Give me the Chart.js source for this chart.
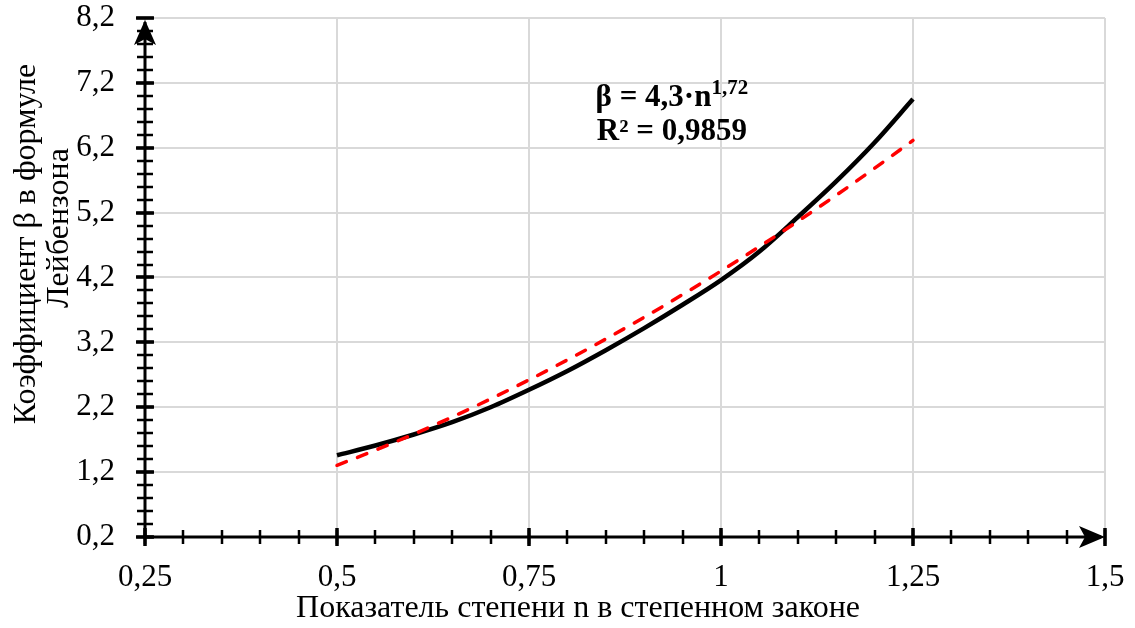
<!DOCTYPE html>
<html>
<head>
<meta charset="utf-8">
<script src="https://cdn.jsdelivr.net/npm/chart.js@4.4.1/dist/chart.umd.min.js"></script>
<style>
  html, body { margin: 0; padding: 0; background: #fff; }
  #wrap { width: 1135px; height: 628px; }
</style>
</head>
<body>
<div id="wrap"><canvas id="mainChart" width="1135" height="628"></canvas></div>
<script>
document.addEventListener("DOMContentLoaded", function () {
  const SERIF = "'Liberation Serif', 'Times New Roman', serif";

  // power-law index n
  const nValues = [0.5, 0.55, 0.6, 0.65, 0.7, 0.75, 0.8, 0.85, 0.9, 0.95, 1.0, 1.05, 1.1, 1.15, 1.2, 1.25];
  // Leibenzon coefficient beta
  const betaValues = [1.46, 1.61, 1.78, 1.97, 2.2, 2.47, 2.76, 3.08, 3.42, 3.78, 4.16, 4.6, 5.13, 5.68, 6.28, 6.95];
  // power trend beta = 4,3*n^1,72
  const trendValues = [1.305, 1.538, 1.786, 2.05, 2.328, 2.622, 2.93, 3.252, 3.587, 3.937, 4.3, 4.676, 5.066, 5.468, 5.884, 6.313];

  const xTicks = [0.25, 0.5, 0.75, 1, 1.25, 1.5];
  const yTicks = [0.2, 1.2, 2.2, 3.2, 4.2, 5.2, 6.2, 7.2, 8.2];

  const xTitle = "Показатель степени n в степенном законе";
  const yTitle = ["Коэффициент β в формуле", "Лейбензона"];
  const trendText = "β = 4,3·n";
  const trendPower = "1,72";
  const r2Text = "R² = 0,9859";

  const toComma = (v) => String(v).replace(".", ",");

  // axes with arrows, major and minor tick marks, titles and the trend label
  const axesPlugin = {
    id: "axesPlugin",
    afterDraw(chart) {
      const ctx = chart.ctx;
      const xs = chart.scales.x;
      const ys = chart.scales.y;
      const x0 = xs.getPixelForValue(xs.min);
      const x1 = xs.getPixelForValue(xs.max);
      const y0 = ys.getPixelForValue(ys.min);
      const y1 = ys.getPixelForValue(ys.max);

      ctx.save();
      ctx.strokeStyle = "#000";
      ctx.fillStyle = "#000";

      // axis lines
      ctx.lineWidth = 3;
      ctx.beginPath();
      ctx.moveTo(x0, y0);
      ctx.lineTo(x1 - 4, y0);
      ctx.moveTo(x0, y0);
      ctx.lineTo(x0, y1 + 4);
      ctx.stroke();

      // minor ticks
      ctx.lineWidth = 2.5;
      ctx.beginPath();
      for (let v = xs.min; v <= xs.max + 1e-9; v += 0.05) {
        const px = Math.round(xs.getPixelForValue(v));
        ctx.moveTo(px, y0 - 7);
        ctx.lineTo(px, y0 + 7);
      }
      for (let v = ys.min; v <= ys.max + 1e-9; v += 0.2) {
        const py = Math.round(ys.getPixelForValue(v));
        ctx.moveTo(x0 - 8, py);
        ctx.lineTo(x0 + 8, py);
      }
      ctx.stroke();

      // major ticks
      ctx.lineWidth = 3.5;
      ctx.beginPath();
      xTicks.forEach((v) => {
        const px = Math.round(xs.getPixelForValue(v));
        ctx.moveTo(px, y0 - 9);
        ctx.lineTo(px, y0 + 9);
      });
      yTicks.forEach((v) => {
        const py = Math.round(ys.getPixelForValue(v));
        ctx.moveTo(x0 - 9, py);
        ctx.lineTo(x0 + 9, py);
      });
      ctx.stroke();

      // arrow heads
      ctx.beginPath();
      ctx.moveTo(x1, y0);
      ctx.lineTo(x1 - 26, y0 - 11);
      ctx.lineTo(x1 - 20, y0);
      ctx.lineTo(x1 - 26, y0 + 11);
      ctx.closePath();
      ctx.fill();
      ctx.beginPath();
      ctx.moveTo(x0, y1 + 2);
      ctx.lineTo(x0 - 11, y1 + 27);
      ctx.lineTo(x0, y1 + 21);
      ctx.lineTo(x0 + 11, y1 + 27);
      ctx.closePath();
      ctx.fill();

      // axis titles
      ctx.font = "32px " + SERIF;
      ctx.textAlign = "center";
      ctx.textBaseline = "middle";
      ctx.fillText(xTitle, 578, 609);
      ctx.save();
      ctx.translate(27, 244);
      ctx.rotate(-Math.PI / 2);
      ctx.fillText(yTitle[0], 0, 0);
      ctx.restore();
      ctx.save();
      ctx.translate(60, 228);
      ctx.rotate(-Math.PI / 2);
      ctx.fillText(yTitle[1], 0, 0);
      ctx.restore();

      // trend equation
      const cx = xs.getPixelForValue(0.936);
      const ly1 = ys.getPixelForValue(7.0);
      const ly2 = ys.getPixelForValue(6.47);
      ctx.textBaseline = "alphabetic";
      ctx.textAlign = "left";
      ctx.font = "bold 31px " + SERIF;
      const w1 = ctx.measureText(trendText).width;
      ctx.font = "bold 21px " + SERIF;
      const w2 = ctx.measureText(trendPower).width;
      const startX = cx - (w1 + w2) / 2;
      ctx.font = "bold 31px " + SERIF;
      ctx.fillText(trendText, startX, ly1 + 10);
      ctx.font = "bold 21px " + SERIF;
      ctx.fillText(trendPower, startX + w1, ly1 - 2);
      ctx.font = "bold 31px " + SERIF;
      ctx.textAlign = "center";
      ctx.fillText(r2Text, cx, ly2 + 10);
      ctx.restore();
    },
  };

  const chartCtx = document.getElementById("mainChart").getContext("2d");

  new Chart(chartCtx, {
    type: "scatter",
    data: {
      datasets: [
        {
          label: "beta",
          data: nValues.map((n, i) => ({ x: n, y: betaValues[i] })),
          showLine: true,
          borderColor: "#000",
          borderWidth: 4.5,
          pointRadius: 0,
          cubicInterpolationMode: "monotone",
          order: 1,
        },
        {
          label: "trend",
          data: nValues.map((n, i) => ({ x: n, y: trendValues[i] })),
          showLine: true,
          borderColor: "#ff0000",
          borderWidth: 3.5,
          borderDash: [10, 12],
          borderCapStyle: "round",
          pointRadius: 0,
          cubicInterpolationMode: "monotone",
          order: 0,
        },
      ],
    },
    options: {
      responsive: false,
      animation: false,
      events: [],
      layout: { padding: { left: 0, top: 18, right: 30, bottom: 0 } },
      plugins: {
        legend: { display: false },
        tooltip: { enabled: false },
      },
      scales: {
        x: {
          type: "linear",
          min: 0.25,
          max: 1.5,
          border: { display: false },
          grid: { color: "#d9d9d9", lineWidth: 2, drawTicks: false },
          afterBuildTicks: (scale) => {
            scale.ticks = xTicks.map((v) => ({ value: v }));
          },
          afterFit: (scale) => {
            scale.height = 91;
            scale.paddingLeft = 0;
            scale.paddingRight = 0;
            scale.paddingTop = 0;
            scale.paddingBottom = 0;
          },
          ticks: {
            color: "#000",
            padding: 22,
            maxRotation: 0,
            font: { family: SERIF, size: 31 },
            callback: (v) => toComma(v),
          },
        },
        y: {
          type: "linear",
          min: 0.2,
          max: 8.2,
          border: { display: false },
          grid: { color: "#d9d9d9", lineWidth: 2, drawTicks: false },
          afterBuildTicks: (scale) => {
            scale.ticks = yTicks.map((v) => ({ value: v }));
          },
          afterFit: (scale) => {
            scale.width = 145;
            scale.paddingLeft = 0;
            scale.paddingRight = 0;
            scale.paddingTop = 0;
            scale.paddingBottom = 0;
          },
          ticks: {
            color: "#000",
            padding: 30,
            font: { family: SERIF, size: 31 },
            callback: (v) => toComma(v),
          },
        },
      },
    },
    plugins: [axesPlugin],
  });
});
</script>
</body>
</html>
